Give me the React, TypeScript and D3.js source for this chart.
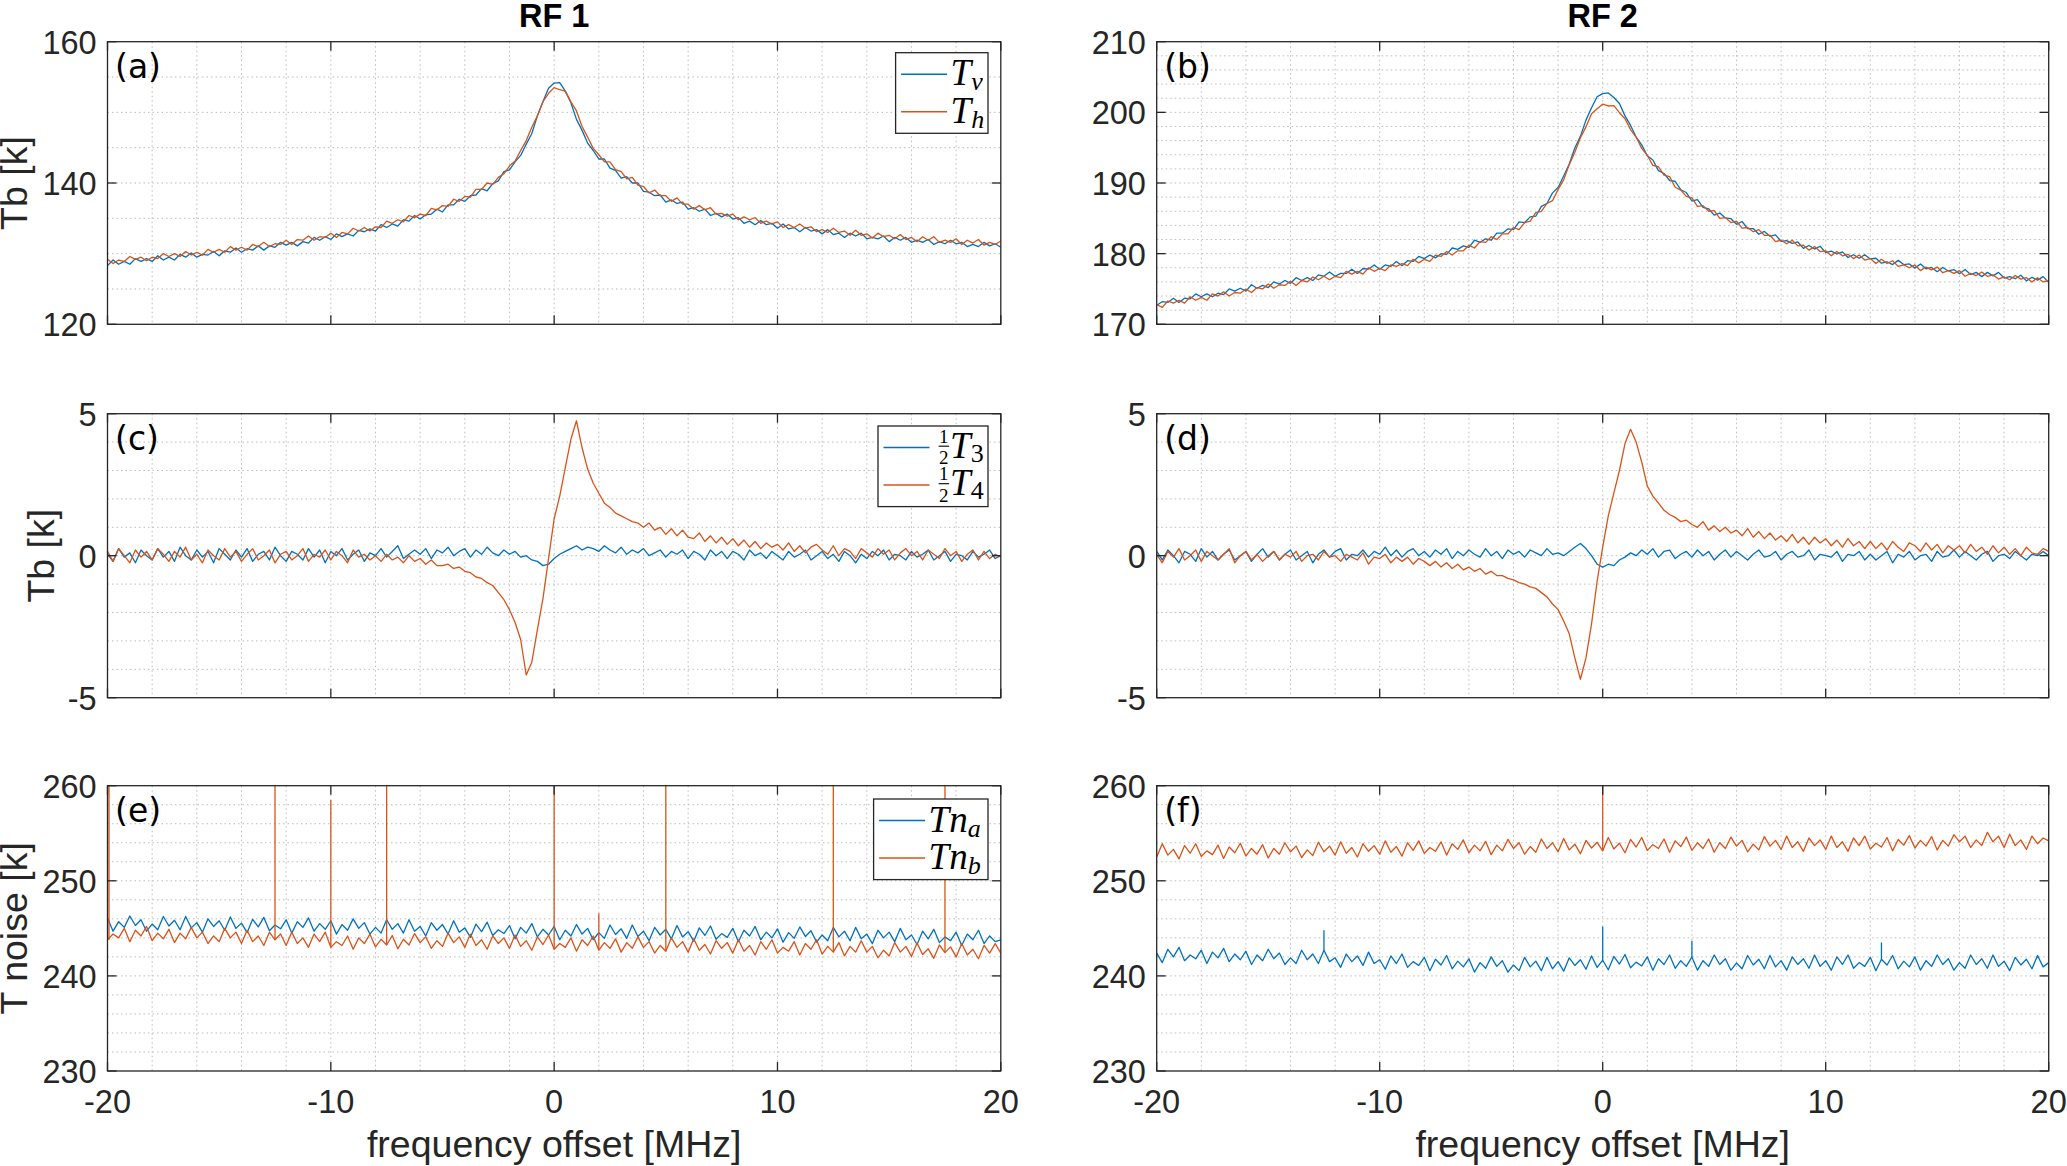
import React from "react";
import * as d3 from "d3";

// ---------- frequency grid (MHz) ----------
const F0 = -20;
const DF = 0.25;

// ---------- RF 1 / RF 2 brightness temperature (K) ----------
const A_TV = [
  128.3, 129.1, 128.5, 128.9, 128.5, 129.3, 128.9, 129.3,
  128.9, 129.7, 129.1, 129.5, 129.1, 129.9, 129.5, 130.1,
  129.5, 129.9, 129.8, 130.3, 129.7, 130.4, 130.2, 130.8,
  130.2, 130.7, 130.5, 131.1, 130.5, 131.1, 130.9, 131.6,
  131.2, 131.6, 131.1, 131.7, 131.5, 132.3, 131.9, 132.4,
  132.0, 132.8, 132.4, 132.8, 132.5, 133.3, 133.1, 133.5,
  133.2, 134.1, 133.7, 134.2, 133.9, 134.8, 134.6, 135.4,
  134.9, 135.5, 135.6, 136.3, 135.9, 136.9, 136.9, 137.7,
  137.4, 138.2, 138.3, 139.2, 138.9, 139.9, 140.3, 141.6,
  141.85, 143.0, 143.9, 145.5, 147.0, 149.5, 151.55, 153.4,
  154.15, 154.2, 153.0, 151.35, 149.0, 147.45, 145.65, 144.6,
  143.4, 143.4, 142.1, 141.8, 140.7, 140.9, 140.0, 140.0,
  138.8, 138.7, 138.2, 138.3, 137.3, 137.6, 137.1, 137.3,
  136.3, 136.5, 136.0, 136.3, 135.4, 135.7, 135.2, 135.6,
  134.9, 135.1, 134.3, 134.6, 134.1, 134.7, 134.1, 134.3,
  133.6, 134.2, 133.5, 133.7, 133.1, 133.7, 133.2, 133.4,
  132.8, 133.4, 132.7, 132.9, 132.3, 132.9, 132.5, 132.9,
  132.1, 132.3, 132.1, 132.5, 131.7, 132.3, 131.9, 132.3,
  131.6, 131.9, 131.6, 132.0, 131.3, 131.7, 131.4, 131.9,
  131.4, 131.6, 131.0, 131.3, 131.0, 131.6, 131.1, 131.4,
  130.9,
];
const A_TH = [
  129.2, 128.6, 129.1, 128.9, 129.6, 129.2, 129.5, 129.0,
  129.5, 129.3, 130.0, 129.6, 130.0, 129.6, 130.3, 129.8,
  130.2, 129.8, 130.6, 130.2, 130.6, 130.2, 131.0, 130.5,
  130.9, 130.5, 131.3, 131.0, 131.6, 131.0, 131.4, 131.3,
  131.9, 131.3, 132.0, 131.9, 132.5, 131.9, 132.4, 132.3,
  132.9, 132.3, 133.0, 132.8, 133.6, 133.2, 133.7, 133.2,
  133.8, 133.7, 134.6, 134.3, 134.8, 134.5, 135.4, 135.1,
  135.6, 135.4, 136.4, 136.2, 136.8, 136.7, 137.7, 137.4,
  138.1, 138.0, 139.1, 139.1, 140.0, 139.8, 140.8, 141.3,
  142.4, 143.1, 144.6, 146.0, 147.9, 149.5, 151.5, 152.7,
  153.5, 153.2, 153.0, 151.5, 150.2, 148.0, 146.5, 144.9,
  144.0, 143.0, 143.0, 141.9, 141.6, 140.6, 140.8, 139.7,
  139.5, 138.6, 139.0, 138.2, 138.2, 137.4, 137.9, 137.0,
  137.0, 136.3, 136.8, 136.2, 136.5, 135.6, 135.7, 135.3,
  135.6, 134.8, 135.2, 134.8, 135.1, 134.3, 134.6, 134.2,
  134.5, 133.7, 134.1, 133.7, 134.2, 133.6, 133.8, 133.1,
  133.4, 133.0, 133.6, 133.0, 133.2, 132.6, 133.3, 132.6,
  132.8, 132.2, 132.9, 132.4, 132.6, 132.1, 132.7, 132.0,
  132.3, 131.7, 132.4, 131.9, 132.4, 131.6, 131.9, 131.6,
  132.1, 131.3, 131.9, 131.5, 132.0, 131.2, 131.6, 131.3,
  131.8,
];
const B_TV = [
  172.7, 173.2, 173.1, 173.7, 173.1, 173.7, 173.6, 174.3,
  173.9, 174.3, 173.9, 174.4, 174.2, 175.0, 174.7, 175.1,
  174.7, 175.6, 175.1, 175.5, 175.2, 176.0, 175.7, 176.2,
  175.8, 176.6, 176.2, 176.6, 176.2, 177.0, 176.8, 177.4,
  176.8, 177.2, 177.2, 177.8, 177.2, 177.9, 177.8, 178.4,
  177.8, 178.4, 178.2, 178.9, 178.3, 179.0, 178.9, 179.6,
  179.3, 179.8, 179.4, 180.0, 179.9, 180.8, 180.6, 181.1,
  180.9, 181.9, 181.6, 182.1, 181.9, 182.9, 182.9, 183.5,
  183.4, 184.5, 184.4, 185.2, 185.3, 186.7, 187.1, 188.6,
  189.35, 191.0, 192.7, 194.95, 196.6, 198.9, 200.65, 202.2,
  202.65, 202.75, 202.1, 201.25, 199.5, 198.15, 196.5, 195.4,
  193.85, 193.25, 191.75, 191.35, 190.35, 190.25, 189.05, 188.65,
  187.45, 187.65, 186.55, 186.35, 185.45, 185.75, 185.05, 184.95,
  184.15, 184.55, 183.55, 183.55, 182.75, 183.15, 182.45, 182.65,
  181.75, 181.85, 181.45, 181.65, 180.75, 181.15, 180.65, 181.05,
  180.15, 180.35, 179.95, 180.25, 179.45, 179.85, 179.35, 179.85,
  179.25, 179.35, 178.65, 178.85, 178.45, 179.05, 178.45, 178.55,
  177.95, 178.55, 177.85, 178.05, 177.45, 178.05, 177.55, 177.75,
  177.15, 177.75, 177.05, 177.35, 176.75, 177.35, 176.85, 177.35,
  176.55, 176.75, 176.45, 176.95, 176.15, 176.65, 176.25, 176.75,
  175.95,
];
const B_TH = [
  172.8, 172.4, 173.3, 173.0, 173.4, 173.0, 173.9, 173.4,
  173.8, 173.4, 174.3, 174.0, 174.6, 174.0, 174.5, 174.4,
  175.0, 174.5, 175.2, 175.0, 175.7, 175.1, 175.6, 175.5,
  176.1, 175.5, 176.2, 176.0, 176.7, 176.3, 176.8, 176.3,
  176.8, 176.6, 177.5, 177.1, 177.5, 177.1, 178.0, 177.5,
  177.9, 177.6, 178.4, 178.2, 178.6, 178.3, 179.2, 178.7,
  179.2, 178.9, 179.8, 179.6, 180.3, 179.8, 180.4, 180.4,
  181.2, 180.8, 181.7, 181.6, 182.4, 182.0, 182.8, 182.8,
  183.7, 183.4, 184.4, 184.6, 185.8, 186.0, 187.1, 187.5,
  189.1, 190.45, 192.6, 194.35, 196.4, 197.95, 199.8, 200.5,
  201.15, 200.9, 200.95, 199.95, 199.1, 197.55, 196.5, 194.9,
  193.9, 192.5, 192.3, 191.1, 190.9, 189.4, 189.0, 188.1,
  187.9, 186.7, 186.8, 186.0, 186.1, 185.0, 185.1, 184.4,
  184.6, 183.6, 183.7, 183.1, 183.4, 182.6, 182.6, 181.7,
  181.9, 181.4, 181.9, 181.1, 181.2, 180.5, 181.0, 180.3,
  180.4, 179.7, 180.3, 179.7, 179.9, 179.3, 179.8, 179.1,
  179.3, 178.6, 179.2, 178.6, 179.0, 178.2, 178.4, 178.0,
  178.4, 177.6, 178.1, 177.7, 178.1, 177.3, 177.6, 177.2,
  177.6, 176.8, 177.2, 176.9, 177.4, 176.8, 177.0, 176.4,
  176.7, 176.3, 176.9, 176.4, 176.6, 176.0, 176.6, 176.0,
  176.2,
];

// ---------- Stokes 3rd / 4th (K) ----------
const C_T3 = [
  0.05, -0.2, 0.25, -0.05, 0.1, -0.25, 0.2, 0.0,
  -0.15, 0.25, -0.05, 0.15, -0.2, 0.3, 0.0, -0.15,
  0.2, -0.05, 0.15, -0.25, 0.25, 0.05, -0.15, 0.2,
  -0.05, 0.25, -0.2, 0.05, 0.15, -0.15, 0.3, 0.0,
  -0.2, 0.15, 0.05, -0.15, 0.25, -0.05, 0.2, -0.25,
  0.15, 0.0, 0.25, -0.15, 0.05, 0.2, -0.2, 0.1,
  0.0, 0.25, -0.05, 0.15, 0.35, -0.1, 0.05, 0.2,
  0.05, 0.25, -0.1, 0.2, 0.1, 0.3, 0.0, 0.15,
  0.25, -0.05, 0.2, 0.05, 0.3, 0.1, 0.0, 0.2,
  0.05, 0.15, -0.05, 0.0, -0.15, -0.2, -0.35, -0.3,
  -0.1, 0.05, 0.15, 0.25, 0.35, 0.2, 0.3, 0.25,
  0.15, 0.35, 0.2, 0.1, 0.3, 0.05, 0.2, 0.1,
  0.25, 0.0, 0.1, 0.2, -0.05, 0.15, 0.05, 0.2,
  -0.1, 0.15, 0.05, -0.15, 0.2, 0.0, 0.15, -0.1,
  0.15, 0.05, -0.15, 0.2, 0.0, 0.1, -0.1, 0.15,
  0.0, -0.15, 0.15, -0.05, 0.05, 0.2, -0.15, 0.0,
  0.15, -0.1, 0.05, -0.2, 0.15, 0.0, -0.25, 0.05,
  -0.1, 0.15, 0.0, 0.2, -0.15, 0.05, 0.0, -0.15,
  0.15, -0.05, 0.05, 0.2, -0.15, 0.0, 0.15, -0.2,
  0.05, 0.0, -0.15, 0.15, -0.05, 0.05, 0.2, -0.1,
  0.0,
];
const C_T4 = [
  0.15, -0.2, 0.25, 0.0, -0.25, 0.2, -0.05, 0.15,
  -0.15, 0.25, 0.05, -0.2, 0.15, -0.05, 0.3, -0.15,
  0.05, -0.25, 0.2, 0.0, -0.15, 0.25, -0.05, 0.15,
  -0.2, 0.05, 0.25, -0.15, 0.0, 0.2, -0.25, 0.05,
  0.15, -0.15, 0.0, 0.25, -0.2, 0.05, -0.05, 0.2,
  -0.15, 0.15, 0.0, -0.25, 0.2, -0.05, 0.05, -0.15,
  0.0, -0.2, 0.05, -0.15, -0.05, -0.25, 0.0, -0.2,
  -0.1, -0.3, -0.15, -0.35, -0.35, -0.3, -0.45, -0.4,
  -0.55, -0.6, -0.75, -0.8, -0.95, -1.05, -1.3, -1.55,
  -1.9, -2.35, -2.95, -4.2, -3.75, -2.6, -1.5, -0.1,
  1.3, 2.1, 3.1, 4.1, 4.75, 3.8, 3.05, 2.55,
  2.2, 1.85, 1.7, 1.5, 1.4, 1.3, 1.2, 1.15,
  1.0, 1.15, 0.9, 1.0, 0.75, 0.95, 0.7, 0.9,
  0.65, 0.6, 0.8, 0.5, 0.7, 0.45, 0.65, 0.4,
  0.6, 0.35, 0.55, 0.3, 0.5, 0.25, 0.45, 0.3,
  0.4, 0.2, 0.45, 0.15, 0.35, 0.1, 0.3, 0.4,
  0.2, 0.05, 0.35, 0.0, 0.25, 0.15, -0.1, 0.25,
  0.1, -0.05, 0.25, 0.05, 0.2, -0.15, 0.1, 0.25,
  0.0, 0.15, -0.15, 0.2, 0.05, -0.1, 0.25, 0.0,
  0.15, -0.2, 0.05, 0.2, -0.15, 0.15, -0.1, 0.05,
  -0.05,
];
const D_T3 = [
  0.15, -0.15, 0.2, 0.0, -0.25, 0.15, 0.05, -0.2,
  0.25, -0.05, 0.15, -0.15, 0.05, 0.2, -0.15, 0.0,
  0.15, -0.2, 0.05, 0.25, -0.05, 0.15, -0.15, 0.05,
  0.2, -0.15, 0.0, 0.15, -0.25, 0.05, 0.2, -0.05,
  0.15, 0.25, -0.15, 0.05, 0.0, 0.2, -0.05, 0.15,
  0.05, 0.3, 0.0, 0.2, -0.05, 0.15, 0.25, 0.0,
  0.15, -0.05, 0.2, 0.05, 0.25, -0.1, 0.15, 0.0,
  0.2, 0.05, -0.05, 0.25, 0.0, 0.15, -0.1, 0.2,
  0.05, 0.15, -0.05, 0.2, 0.1, 0.0, 0.25, 0.05,
  0.1, 0.0, 0.15, 0.3, 0.43, 0.25, 0.0, -0.3,
  -0.4, -0.3, -0.35, -0.15, -0.05, 0.1, 0.0, 0.2,
  0.05, 0.25, -0.05, 0.15, 0.2, -0.1, 0.05, 0.15,
  -0.05, 0.2, 0.0, 0.15, -0.15, 0.05, 0.2, -0.05,
  0.15, 0.0, -0.15, 0.05, 0.2, -0.05, 0.0, 0.15,
  -0.15, 0.05, 0.15, -0.05, 0.0, 0.2, -0.15, 0.05,
  0.0, -0.05, 0.15, -0.2, 0.05, 0.0, 0.15, -0.15,
  0.05, -0.15, 0.0, 0.15, -0.25, 0.05, -0.05, 0.15,
  -0.15, 0.0, 0.05, -0.2, 0.15, -0.05, 0.0, 0.2,
  -0.05, 0.15, 0.0, -0.15, 0.05, 0.15, -0.2, 0.0,
  0.05, -0.1, 0.15, 0.0, -0.15, 0.05, 0.0, 0.15,
  0.0,
];
const D_T4 = [
  0.05, -0.25, 0.15, -0.05, 0.25, -0.15, 0.0, 0.2,
  -0.2, 0.15, 0.0, -0.15, 0.05, 0.25, -0.25, 0.0,
  0.15, -0.15, 0.05, -0.2, 0.0, 0.15, -0.15, 0.05,
  -0.05, 0.15, -0.2, 0.0, 0.05, -0.15, 0.15, -0.05,
  0.0, -0.2, 0.05, -0.05, -0.15, 0.1, -0.3, -0.05,
  -0.1, 0.05, -0.25, -0.05, -0.2, -0.05, -0.3, -0.1,
  -0.2, -0.35, -0.2, -0.4, -0.25, -0.45, -0.3, -0.5,
  -0.4, -0.55, -0.45, -0.65, -0.55, -0.7, -0.7, -0.8,
  -0.85, -0.95, -1.0, -1.1, -1.15, -1.3, -1.45, -1.7,
  -1.9, -2.3, -2.75, -3.6, -4.35, -3.6, -2.4, -0.9,
  0.3, 1.4, 2.2, 3.0, 3.95, 4.45, 4.0, 3.3,
  2.45, 2.1, 1.85, 1.6, 1.45, 1.35, 1.2, 1.25,
  1.1, 1.0, 1.2, 0.9, 1.05, 0.85, 1.0, 0.8,
  0.9, 0.7, 0.95, 0.65, 0.85, 0.6, 0.8, 0.55,
  0.7, 0.5, 0.75, 0.45, 0.65, 0.4, 0.65, 0.45,
  0.6, 0.35, 0.55, 0.3, 0.6, 0.35, 0.5, 0.25,
  0.5, 0.25, 0.45, 0.2, 0.5, 0.3, 0.15, 0.45,
  0.35, 0.15, 0.45, 0.2, 0.4, 0.1, 0.35, 0.2,
  0.35, 0.1, 0.4, 0.15, 0.3, 0.05, 0.35, 0.1,
  0.3, 0.05, 0.25, 0.0, 0.3, 0.1, 0.05, 0.25,
  0.15,
];

// ---------- noise temperatures (K) ----------
const E_TNA = [
  246.1, 244.7, 245.7, 245.1, 246.3, 245.3, 245.9, 244.7,
  245.45, 244.85, 246.25, 245.25, 245.85, 244.85, 246.25, 245.05,
  245.6, 244.6, 246.0, 245.2, 245.8, 244.8, 246.2, 245.0,
  245.55, 244.55, 245.95, 245.15, 246.15, 244.75, 245.35, 244.95,
  245.9, 244.5, 245.7, 245.1, 246.1, 244.7, 245.5, 244.9,
  245.8, 244.4, 245.4, 244.8, 246.0, 245.0, 245.6, 244.4,
  245.1, 244.5, 245.9, 244.9, 245.5, 244.5, 245.9, 244.7,
  245.2, 244.2, 245.6, 244.8, 245.4, 244.4, 245.8, 244.6,
  245.05, 244.05, 245.45, 244.65, 245.65, 244.25, 244.85, 244.45,
  245.3, 243.9, 245.1, 244.5, 245.5, 244.1, 244.9, 244.3,
  245.2, 243.8, 244.8, 244.2, 245.4, 244.4, 245.0, 243.8,
  244.55, 243.95, 245.35, 244.35, 244.95, 243.95, 245.35, 244.15,
  244.7, 243.7, 245.1, 244.3, 244.9, 243.9, 245.3, 244.1,
  244.65, 243.65, 245.05, 244.25, 245.25, 243.85, 244.45, 244.05,
  245.0, 243.6, 244.8, 244.2, 245.2, 243.8, 244.6, 244.0,
  244.95, 243.55, 244.55, 243.95, 245.15, 244.15, 244.75, 243.55,
  244.3, 243.7, 245.1, 244.1, 244.7, 243.7, 245.1, 243.9,
  244.4, 243.4, 244.8, 244.0, 244.6, 243.6, 245.0, 243.8,
  244.3, 243.3, 244.7, 243.9, 244.9, 243.5, 244.1, 243.7,
  244.6, 243.2, 244.4, 243.8, 244.8, 243.4, 244.2, 243.6,
  243.8,
];
const E_TNB = [
  243.8, 244.4, 244.0, 245.0, 243.6, 244.8, 244.2, 245.2,
  243.7, 244.5, 243.9, 244.9, 243.5, 244.5, 243.9, 245.1,
  244.0, 244.6, 243.4, 244.2, 243.6, 245.0, 244.0, 244.6,
  243.4, 244.8, 243.6, 244.2, 243.2, 244.6, 243.8, 244.4,
  243.2, 244.6, 243.4, 244.0, 243.0, 244.4, 243.6, 244.6,
  243.0, 243.6, 243.2, 244.2, 242.8, 244.0, 243.4, 244.4,
  243.05, 243.85, 243.25, 244.25, 242.85, 243.85, 243.25, 244.45,
  243.5, 244.1, 242.9, 243.7, 243.1, 244.5, 243.5, 244.1,
  243.0, 244.4, 243.2, 243.8, 242.8, 244.2, 243.4, 244.0,
  242.9, 244.3, 243.1, 243.7, 242.7, 244.1, 243.3, 244.3,
  242.8, 243.4, 243.0, 244.0, 242.6, 243.8, 243.2, 244.2,
  242.7, 243.5, 242.9, 243.9, 242.5, 243.5, 242.9, 244.1,
  243.0, 243.6, 242.4, 243.2, 242.6, 244.0, 243.0, 243.6,
  242.5, 243.9, 242.7, 243.3, 242.3, 243.7, 242.9, 243.5,
  242.4, 243.8, 242.6, 243.2, 242.2, 243.6, 242.8, 243.8,
  242.4, 243.0, 242.6, 243.6, 242.2, 243.4, 242.8, 243.8,
  242.3, 243.1, 242.5, 243.5, 242.1, 243.1, 242.5, 243.7,
  242.5, 243.1, 241.9, 242.7, 242.1, 243.5, 242.5, 243.1,
  242.05, 243.45, 242.25, 242.85, 241.85, 243.25, 242.45, 243.05,
  242.0, 243.4, 242.2, 242.8, 241.8, 243.2, 242.4, 243.4,
  242.4,
];
const F_TNA = [
  242.4, 241.4, 242.8, 242.0, 243.0, 241.6, 242.2, 241.8,
  242.7, 241.3, 242.5, 241.9, 242.9, 241.5, 242.3, 241.7,
  242.6, 241.2, 242.2, 241.6, 242.8, 241.8, 242.4, 241.2,
  241.9, 241.3, 242.7, 241.7, 242.3, 241.3, 242.7, 241.5,
  241.9, 240.9, 242.3, 241.5, 242.1, 241.1, 242.5, 241.3,
  241.7, 240.7, 242.1, 241.3, 242.3, 240.9, 241.5, 241.1,
  241.95, 240.55, 241.75, 241.15, 242.15, 240.75, 241.55, 240.95,
  241.8, 240.4, 241.4, 240.8, 242.0, 241.0, 241.6, 240.4,
  241.15, 240.55, 241.95, 240.95, 241.55, 240.55, 241.95, 240.75,
  241.5, 240.5, 241.9, 241.1, 241.7, 240.7, 242.1, 240.9,
  241.65, 240.65, 242.05, 241.25, 242.25, 240.85, 241.45, 241.05,
  242.0, 240.6, 241.8, 241.2, 242.2, 240.8, 241.6, 241.0,
  242.0, 240.6, 241.6, 241.0, 242.2, 241.2, 241.8, 240.6,
  241.35, 240.75, 242.15, 241.15, 241.75, 240.75, 242.15, 240.95,
  241.6, 240.6, 242.0, 241.2, 241.8, 240.8, 242.2, 241.0,
  241.6, 240.6, 242.0, 241.2, 242.2, 240.8, 241.4, 241.0,
  241.95, 240.55, 241.75, 241.15, 242.15, 240.75, 241.55, 240.95,
  242.0, 240.6, 241.6, 241.0, 242.2, 241.2, 241.8, 240.6,
  241.4, 240.8, 242.2, 241.2, 241.8, 240.8, 242.2, 241.0,
  241.55, 240.55, 241.95, 241.15, 241.75, 240.75, 242.15, 240.95,
  241.4,
];
const F_TNB = [
  252.5, 253.9, 252.7, 253.3, 252.3, 253.7, 252.9, 253.9,
  252.55, 253.15, 252.75, 253.75, 252.35, 253.55, 252.95, 253.95,
  252.6, 253.4, 252.8, 253.8, 252.4, 253.4, 252.8, 254.0,
  253.05, 253.65, 252.45, 253.25, 252.65, 254.05, 253.05, 253.65,
  252.7, 254.1, 252.9, 253.5, 252.5, 253.9, 253.1, 253.7,
  252.8, 254.2, 253.0, 253.6, 252.6, 254.0, 253.2, 254.2,
  252.9, 253.5, 253.1, 254.1, 252.7, 253.9, 253.3, 254.3,
  252.95, 253.75, 253.15, 254.15, 252.75, 253.75, 253.15, 254.35,
  253.4, 254.0, 252.8, 253.6, 253.0, 254.4, 253.4, 254.0,
  253.05, 254.45, 253.25, 253.85, 252.85, 254.25, 253.45, 254.05,
  253.15, 254.55, 253.35, 253.95, 252.95, 254.35, 253.55, 254.55,
  253.2, 253.8, 253.4, 254.4, 253.0, 254.2, 253.6, 254.6,
  253.2, 254.0, 253.4, 254.4, 253.0, 254.0, 253.4, 254.6,
  253.65, 254.25, 253.05, 253.85, 253.25, 254.65, 253.65, 254.25,
  253.3, 254.7, 253.5, 254.1, 253.1, 254.5, 253.7, 254.3,
  253.3, 254.7, 253.5, 254.1, 253.1, 254.5, 253.7, 254.7,
  253.35, 253.95, 253.55, 254.55, 253.15, 254.35, 253.75, 254.75,
  253.45, 254.25, 253.65, 254.65, 253.25, 254.25, 253.65, 254.85,
  254.1, 254.7, 253.5, 254.3, 253.7, 255.1, 254.1, 254.7,
  253.5, 254.9, 253.7, 254.3, 253.3, 254.7, 253.9, 254.5,
  254.2,
];

// narrow spikes (frequency MHz, top value K)
const E_B_SPIKE_F = [-20, -12.5, -10, -7.5, 0, 2, 5, 12.5, 17.5];
const E_B_SPIKE_T = [262, 262, 258.5, 262, 262, 246.6, 262, 262, 262];
const F_A_SPIKE_F = [-12.5, 0, 4, 12.5];
const F_A_SPIKE_T = [244.8, 245.2, 243.7, 243.5];
const F_B_SPIKE_F = [0];
const F_B_SPIKE_T = [262];

// ---------- axis definitions ----------
const X_DOMAIN = [-20, 20];
const X_MAJOR = [-20, -10, 0, 10, 20];
const X_MINOR_STEP = 2;
const TITLES = ["RF 1", "RF 2"];
const Y_LABELS = ["Tb [k]", "Tb [k]", "T noise [k]"];

const BLUE = "#0072BD";
const ORANGE = "#D95319";
const AX = "#262626";
const SANS = "'Liberation Sans', Arial, Helvetica, sans-serif";
const SERIF = "'Liberation Serif', 'Times New Roman', serif";

const COLS = [
  { left: 107.5, right: 1000.8 },
  { left: 1156.7, right: 2048.7 },
];
const ROWS = [
  { top: 41.7, bottom: 324.3 },
  { top: 413.7, bottom: 697.7 },
  { top: 785.7, bottom: 1071 },
];
const YLABEL_X = [27.3, 53.6, 27.3];

type Spike = { f: number[]; t: number[]; color: string; series: number[] };
type PanelDef = {
  id: string;
  col: number;
  row: number;
  yDomain: [number, number];
  yMajor: number[];
  yMinorStep: number;
  blue: number[];
  orange: number[];
  spikes: Spike[];
  legend?: "TvTh" | "T34" | "Tn";
};

const PANELS: PanelDef[] = [
  { id: "a", col: 0, row: 0, yDomain: [120, 160], yMajor: [120, 140, 160], yMinorStep: 5, blue: A_TV, orange: A_TH, spikes: [], legend: "TvTh" },
  { id: "b", col: 1, row: 0, yDomain: [170, 210], yMajor: [170, 180, 190, 200, 210], yMinorStep: 2, blue: B_TV, orange: B_TH, spikes: [] },
  { id: "c", col: 0, row: 1, yDomain: [-5, 5], yMajor: [-5, 0, 5], yMinorStep: 1, blue: C_T3, orange: C_T4, spikes: [], legend: "T34" },
  { id: "d", col: 1, row: 1, yDomain: [-5, 5], yMajor: [-5, 0, 5], yMinorStep: 1, blue: D_T3, orange: D_T4, spikes: [] },
  {
    id: "e", col: 0, row: 2, yDomain: [230, 260], yMajor: [230, 240, 250, 260], yMinorStep: 2, blue: E_TNA, orange: E_TNB,
    spikes: [{ f: E_B_SPIKE_F, t: E_B_SPIKE_T, color: ORANGE, series: E_TNB }], legend: "Tn",
  },
  {
    id: "f", col: 1, row: 2, yDomain: [230, 260], yMajor: [230, 240, 250, 260], yMinorStep: 2, blue: F_TNA, orange: F_TNB,
    spikes: [
      { f: F_A_SPIKE_F, t: F_A_SPIKE_T, color: BLUE, series: F_TNA },
      { f: F_B_SPIKE_F, t: F_B_SPIKE_T, color: ORANGE, series: F_TNB },
    ],
  },
];

const TICK_FS = 32.5;
const LABEL_FS = 37.5;
const TICK_LEN = 9;

function Legend({ kind, right, top }: { kind: string; right: number; top: number }) {
  const width = kind === "TvTh" ? 92.4 : kind === "T34" ? 110 : 114.4;
  const height = 80.6;
  const left = right - width;
  const l1 = top + 21.5;
  const l2 = top + 59;
  const lineX1 = left + 5.5;
  const lineX2 = left + 51.5;
  const tx = left + (kind === "T34" ? 60.6 : 55);
  const TFS = 37;
  const SFS = 26;
  const entry = (ly: number, sub: string) => {
    if (kind === "TvTh") {
      return (
        <text x={tx} y={ly + 11} fontFamily={SERIF} fontStyle="italic" fontSize={TFS} fill="#000">
          T<tspan fontSize={SFS} dy={5}>{sub}</tspan>
        </text>
      );
    }
    if (kind === "Tn") {
      return (
        <text x={tx} y={ly + 11} fontFamily={SERIF} fontStyle="italic" fontSize={TFS} fill="#000">
          Tn<tspan fontSize={SFS} dy={5}>{sub}</tspan>
        </text>
      );
    }
    return (
      <g>
        <text x={tx + 5.2} y={ly - 4.7} fontFamily={SERIF} fontSize={19} textAnchor="middle" fill="#000">1</text>
        <line x1={tx} x2={tx + 10.5} y1={ly - 1.3} y2={ly - 1.3} stroke="#000" strokeWidth={1.1} />
        <text x={tx + 5.2} y={ly + 16.5} fontFamily={SERIF} fontSize={19} textAnchor="middle" fill="#000">2</text>
        <text x={tx + 11.5} y={ly + 10.3} fontFamily={SERIF} fontStyle="italic" fontSize={TFS} fill="#000">
          T<tspan fontStyle="normal" fontSize={SFS} dy={4}>{sub}</tspan>
        </text>
      </g>
    );
  };
  const subs = kind === "TvTh" ? ["v", "h"] : kind === "T34" ? ["3", "4"] : ["a", "b"];
  return (
    <g>
      <rect x={left} y={top} width={width} height={height} fill="#fff" stroke={AX} strokeWidth={1.3} />
      <line x1={lineX1} x2={lineX2} y1={l1} y2={l1} stroke={BLUE} strokeWidth={1.5} />
      <line x1={lineX1} x2={lineX2} y1={l2} y2={l2} stroke={ORANGE} strokeWidth={1.5} />
      {entry(l1, subs[0])}
      {entry(l2, subs[1])}
    </g>
  );
}

function Panel({ p }: { p: PanelDef }) {
  const c = COLS[p.col];
  const r = ROWS[p.row];
  const x = d3.scaleLinear().domain(X_DOMAIN).range([c.left, c.right]);
  const y = d3.scaleLinear().domain(p.yDomain).range([r.bottom, r.top]);
  const fAt = (i: number) => F0 + i * DF;
  const line = d3
    .line<number>()
    .x((_, i) => x(fAt(i)))
    .y((d) => y(d));
  const clipId = `clip-${p.id}`;
  const xGrid = d3.range(X_DOMAIN[0] + X_MINOR_STEP, X_DOMAIN[1] - 0.001, X_MINOR_STEP);
  const yGrid = d3.range(p.yDomain[0] + p.yMinorStep, p.yDomain[1] - 0.001, p.yMinorStep);
  const showX = p.row === 2;
  const legendTop = r.top + (p.row === 0 ? 11 : p.row === 1 ? 12.3 : 13.3);
  const spikeLines = (color: string) =>
    p.spikes
      .filter((s) => s.color === color)
      .map((s, si) =>
        s.f.map((f, k) => {
          const xx = x(f) + (f === X_DOMAIN[0] ? 1.5 : 0);
          return (
            <line
              key={`s${color}${si}-${k}`}
              x1={xx}
              x2={xx}
              y1={y(s.series[Math.round((f - F0) / DF)])}
              y2={y(s.t[k])}
              stroke={s.color}
            />
          );
        })
      );
  return (
    <g>
      <defs>
        <clipPath id={clipId}>
          <rect x={c.left} y={r.top} width={c.right - c.left} height={r.bottom - r.top} />
        </clipPath>
      </defs>
      <g stroke="#bdbdbd" strokeWidth={1} strokeDasharray="1.5 3">
        {xGrid.map((v) => (
          <line key={`gx${v}`} x1={x(v)} x2={x(v)} y1={r.top} y2={r.bottom} />
        ))}
        {yGrid.map((v) => (
          <line key={`gy${v}`} x1={c.left} x2={c.right} y1={y(v)} y2={y(v)} />
        ))}
      </g>
      <g clipPath={`url(#${clipId})`} fill="none" strokeWidth={1.3} strokeLinejoin="round">
        <path d={line(p.blue) || ""} stroke={BLUE} />
        {spikeLines(BLUE)}
        <path d={line(p.orange) || ""} stroke={ORANGE} />
        {spikeLines(ORANGE)}
      </g>
      <rect x={c.left} y={r.top} width={c.right - c.left} height={r.bottom - r.top} fill="none" stroke={AX} strokeWidth={1.3} />
      <g stroke={AX} strokeWidth={1.3}>
        {X_MAJOR.map((v) => (
          <g key={`tx${v}`}>
            <line x1={x(v)} x2={x(v)} y1={r.bottom} y2={r.bottom - TICK_LEN} />
            <line x1={x(v)} x2={x(v)} y1={r.top} y2={r.top + TICK_LEN} />
          </g>
        ))}
        {p.yMajor.map((v) => (
          <g key={`ty${v}`}>
            <line x1={c.left} x2={c.left + TICK_LEN} y1={y(v)} y2={y(v)} />
            <line x1={c.right} x2={c.right - TICK_LEN} y1={y(v)} y2={y(v)} />
          </g>
        ))}
      </g>
      <g fontFamily={SANS} fontSize={TICK_FS} fill={AX}>
        {p.yMajor.map((v) => (
          <text key={`ly${v}`} x={c.left - 10.8} y={y(v) + 12} textAnchor="end">
            {String(v)}
          </text>
        ))}
        {showX &&
          X_MAJOR.map((v) => (
            <text key={`lx${v}`} x={x(v)} y={1113.3} textAnchor="middle">
              {String(v)}
            </text>
          ))}
      </g>
      <text x={c.left + 7.5} y={r.top + 36} fontFamily="'DejaVu Sans', sans-serif" fontSize={33} fill="#000">
        ({p.id})
      </text>
      {p.legend && <Legend kind={p.legend} right={c.right - 12.8} top={legendTop} />}
    </g>
  );
}

export default function App() {
  return (
    <svg
      width={2067}
      height={1166}
      viewBox="0 0 2067 1166"
      style={{ position: "absolute", left: 0, top: 0, background: "#fff" }}
    >
      <rect x={0} y={0} width={2067} height={1166} fill="#fff" />
      {PANELS.map((p) => (
        <Panel key={p.id} p={p} />
      ))}
      {COLS.map((c, i) => (
        <text
          key={`t${i}`}
          x={(c.left + c.right) / 2}
          y={26.7}
          textAnchor="middle"
          fontFamily={SANS}
          fontWeight="bold"
          fontSize={32.5}
          fill="#000"
        >
          {TITLES[i]}
        </text>
      ))}
      {COLS.map((c, i) => (
        <text
          key={`xl${i}`}
          x={(c.left + c.right) / 2}
          y={1156.7}
          textAnchor="middle"
          fontFamily={SANS}
          fontSize={LABEL_FS}
          fill={AX}
        >
          frequency offset [MHz]
        </text>
      ))}
      {ROWS.map((r, i) => {
        const cy = (r.top + r.bottom) / 2;
        return (
          <text
            key={`yl${i}`}
            transform={`translate(${YLABEL_X[i]},${cy}) rotate(-90)`}
            textAnchor="middle"
            fontFamily={SANS}
            fontSize={LABEL_FS}
            fill={AX}
          >
            {Y_LABELS[i]}
          </text>
        );
      })}
    </svg>
  );
}
